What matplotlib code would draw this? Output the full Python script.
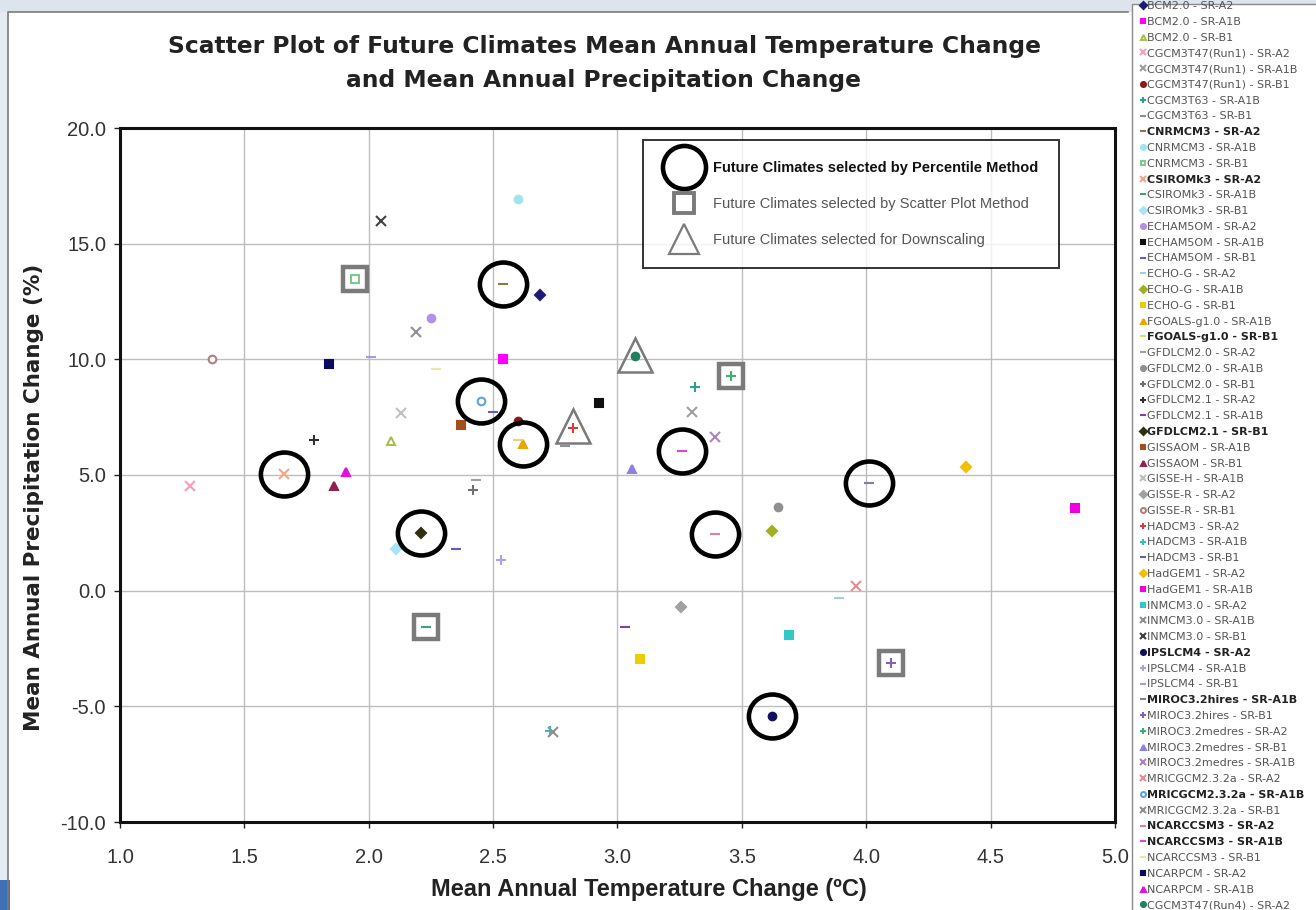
"""Scatter plot of future climate projections: temperature vs precipitation change."""

import matplotlib
matplotlib.use('Agg')
import matplotlib.pyplot as plt
from matplotlib.lines import Line2D
from matplotlib.patches import Rectangle
from matplotlib.path import Path
from matplotlib.transforms import Affine2D

plt.rcParams['font.family'] = ['Liberation Sans', 'DejaVu Sans']

# --- data -----------------------------------------------------------------
models = [
    'BCM2.0 - SR-A2', 'BCM2.0 - SR-A1B', 'BCM2.0 - SR-B1',
    'CGCM3T47(Run1) - SR-A2', 'CGCM3T47(Run1) - SR-A1B', 'CGCM3T47(Run1) - SR-B1',
    'CGCM3T63 - SR-A1B', 'CGCM3T63 - SR-B1',
    'CNRMCM3 - SR-A2', 'CNRMCM3 - SR-A1B', 'CNRMCM3 - SR-B1',
    'CSIROMk3 - SR-A2', 'CSIROMk3 - SR-A1B', 'CSIROMk3 - SR-B1',
    'ECHAM5OM - SR-A2', 'ECHAM5OM - SR-A1B', 'ECHAM5OM - SR-B1',
    'ECHO-G - SR-A2', 'ECHO-G - SR-A1B', 'ECHO-G - SR-B1',
    'FGOALS-g1.0 - SR-A1B', 'FGOALS-g1.0 - SR-B1',
    'GFDLCM2.0 - SR-A2', 'GFDLCM2.0 - SR-A1B', 'GFDLCM2.0 - SR-B1',
    'GFDLCM2.1 - SR-A2', 'GFDLCM2.1 - SR-A1B', 'GFDLCM2.1 - SR-B1',
    'GISSAOM - SR-A1B', 'GISSAOM - SR-B1',
    'GISSE-H - SR-A1B', 'GISSE-R - SR-A2', 'GISSE-R - SR-B1',
    'HADCM3 - SR-A2', 'HADCM3 - SR-A1B', 'HADCM3 - SR-B1',
    'HadGEM1 - SR-A2', 'HadGEM1 - SR-A1B',
    'INMCM3.0 - SR-A2', 'INMCM3.0 - SR-A1B', 'INMCM3.0 - SR-B1',
    'IPSLCM4 - SR-A2', 'IPSLCM4 - SR-A1B', 'IPSLCM4 - SR-B1',
    'MIROC3.2hires - SR-A1B', 'MIROC3.2hires - SR-B1',
    'MIROC3.2medres - SR-A2', 'MIROC3.2medres - SR-B1', 'MIROC3.2medres - SR-A1B',
    'MRICGCM2.3.2a - SR-A2', 'MRICGCM2.3.2a - SR-A1B', 'MRICGCM2.3.2a - SR-B1',
    'NCARCCSM3 - SR-A2', 'NCARCCSM3 - SR-A1B', 'NCARCCSM3 - SR-B1',
    'NCARPCM - SR-A2', 'NCARPCM - SR-A1B',
    'CGCM3T47(Run4) - SR-A2',
]

temp_change = [
    2.69, 2.54, 2.09,
    1.28, 3.30, 2.60,
    3.31, 2.79,
    2.54, 2.60, 1.945,
    1.66, 2.23, 2.11,
    2.25, 2.925, 2.50,
    3.89, 3.62, 3.09,
    2.62, 2.60,
    2.43, 3.645, 2.42,
    1.78, 3.03, 2.21,
    2.37, 1.86,
    2.13, 3.255, 1.37,
    2.82, 2.73, 2.35,
    4.40, 4.84,
    3.69, 2.19, 2.05,
    3.62, 2.53, 2.01,
    4.01, 4.10,
    3.456, 3.06, 3.39,
    3.96, 2.45, 2.74,
    3.39, 3.26, 2.27,
    1.84, 1.91,
    3.07,
]

precip_change = [
    12.78, 10.0, 6.47,
    4.52, 7.72, 7.33,
    8.8, 6.25,
    13.26, 16.93, 13.47,
    5.04, -1.57, 1.8,
    11.79, 8.11, 7.72,
    -0.32, 2.58, -2.96,
    6.34, 6.5,
    4.78, 3.61, 4.35,
    6.51, -1.57, 2.49,
    7.16, 4.52,
    7.68, -0.7, 10.0,
    7.03, -6.07, 1.8,
    5.34, 3.57,
    -1.92, 11.18, 15.98,
    -5.42, 1.32, 10.1,
    4.65, -3.13,
    9.28, 5.26, 6.64,
    0.2, 8.2, -6.1,
    2.45, 6.04, 9.6,
    9.8, 5.13,
    10.14,
]

bold_models = [
    'CNRMCM3 - SR-A2', 'CSIROMk3 - SR-A2', 'FGOALS-g1.0 - SR-B1',
    'GFDLCM2.1 - SR-B1', 'IPSLCM4 - SR-A2', 'MIROC3.2hires - SR-A1B',
    'MRICGCM2.3.2a - SR-A1B', 'NCARCCSM3 - SR-A2', 'NCARCCSM3 - SR-A1B',
]

# selected future climates
percentile_temp = [1.66, 2.21, 2.45, 2.62, 2.54, 3.26, 3.39, 3.62, 4.01]
percentile_precip = [5.04, 2.49, 8.2, 6.34, 13.26, 6.04, 2.45, -5.42, 4.65]
scatter_temp = [1.945, 2.23, 3.456, 4.10]
scatter_precip = [13.47, -1.57, 9.28, -3.13]
downscale_temp = [3.07, 2.82]
downscale_precip = [10.2, 7.1]

# --- styles ---------------------------------------------------------------
marker_styles = [
    'D', 's', '^',
    'x', 'x', 'o',
    '+', '_',
    '_', 'o', 's',
    'x', '_', 'D',
    'o', 's', '_',
    '_', 'D', 's',
    '^', '_',
    '_', 'o', '+',
    '+', '_', 'D',
    's', '^',
    'x', 'D', 'o',
    '+', '+', '_',
    'D', 's',
    's', 'x', 'x',
    'o', '+', '_',
    '_', '+',
    '+', '^', 'x',
    'x', 'o', 'x',
    '_', '_', '_',
    's', '^',
    'o',
]

marker_colors = [
    '#1c1c78', '#ff00ff', '#a8c050',
    '#f4a0b8', '#a0a0a0', '#8b1a1a',
    '#2e9e8e', '#909090',
    '#8a7a40', '#a0e4f0', '#80c890',
    '#f0a888', '#40a080', '#a8e4f8',
    '#b090e8', '#101010', '#6060c0',
    '#a0d0e0', '#a0b020', '#e8d000',
    '#e8a800', '#f0d070',
    '#a0a0a0', '#909090', '#707070',
    '#303030', '#8040a0', '#303010',
    '#a0501a', '#902050',
    '#c0c0c0', '#a0a0a0', '#b08080',
    '#d04040', '#30c0c0', '#6060b0',
    '#f0c000', '#f000e0',
    '#30c8c8', '#909090', '#404040',
    '#101060', '#b0a0e0', '#a0a0e0',
    '#8080a0', '#8060c0',
    '#40b070', '#9080e0', '#b080c0',
    '#e09090', '#60a0e0', '#909090',
    '#e080a0', '#e040e0', '#f0e8a0',
    '#0a0a60', '#e010e0',
    '#208060',
]

hollow = ['CNRMCM3 - SR-B1', 'GISSE-R - SR-B1', 'MRICGCM2.3.2a - SR-A1B', 'BCM2.0 - SR-B1']


def main() -> None:
    fig = plt.figure(figsize=(13.16, 9.1), dpi=100)
    W, H = 1316.0, 910.0

    # screenshot-like frame around the chart
    fig.patches.append(Rectangle((0, 1 - 12 / H), 1, 12 / H, transform=fig.transFigure,
                                 facecolor='#dde4ec', edgecolor='none', zorder=0))
    fig.patches.append(Rectangle((0, 0), 8 / W, 1 - 12 / H, transform=fig.transFigure,
                                 facecolor='#e6ebf1', edgecolor='none', zorder=0))
    fig.patches.append(Rectangle((0, 0), 10 / W, 30 / H, transform=fig.transFigure,
                                 facecolor='#3f6fb5', edgecolor='none', zorder=0))
    fig.lines.append(Line2D([8 / W, 8 / W, 1128 / W], [0, 1 - 12 / H, 1 - 12 / H],
                            transform=fig.transFigure, color='#7a7a7a', lw=1.2))
    fig.patches.append(Rectangle((1132 / W, -0.01), 0.2, 1 - 4 / H + 0.01,
                                 transform=fig.transFigure, facecolor='white',
                                 edgecolor='#8a8a8a', lw=1.0, zorder=1))

    ax = fig.add_axes([120 / W, 1 - 822 / H, 995 / W, 694 / H])

    handles = []
    for i, name in enumerate(models):
        m = marker_styles[i]
        c = marker_colors[i]
        mfc = 'white' if name in hollow else c
        ms = 6.5 if m in ('x', '+', '_') else 5.5
        h, = ax.plot(temp_change[i], precip_change[i], linestyle='none', marker=m,
                     color=c, mfc=mfc, mec=c, ms=ms, mew=1.5, zorder=3, label=name)
        handles.append(h)

    # slightly flattened ring, as in the original spreadsheet chart
    ring = Path.unit_circle().transformed(Affine2D().scale(1.0, 0.93))
    ax.plot(percentile_temp, percentile_precip, linestyle='none', marker=ring, ms=34,
            mfc='none', mec='black', mew=3.3, zorder=4)
    ax.plot(scatter_temp, scatter_precip, linestyle='none', marker='s', ms=17.5,
            mfc='none', mec='#7a7a7a', mew=3.2, zorder=4)
    ax.plot(downscale_temp, downscale_precip, linestyle='none', marker='^', ms=25,
            mfc='none', mec='#7a7a7a', mew=1.8, zorder=4)

    ax.set_xlim(1.0, 5.0)
    ax.set_ylim(-10.0, 20.0)
    ax.set_xticks([1.0, 1.5, 2.0, 2.5, 3.0, 3.5, 4.0, 4.5, 5.0])
    ax.set_yticks([-10, -5, 0, 5, 10, 15, 20])
    ax.set_xticklabels([f'{v:.1f}' for v in ax.get_xticks()])
    ax.set_yticklabels([f'{v:.1f}' for v in ax.get_yticks()])
    ax.tick_params(labelsize=14.5, colors='#222222', labelcolor='#333333',
                   length=4, width=1)
    ax.tick_params(axis='x', pad=15)
    ax.tick_params(axis='y', pad=6)
    ax.grid(True, color='#bdbdbd', lw=1.0)
    ax.set_axisbelow(True)
    for sp in ax.spines.values():
        sp.set_linewidth(2.2)
        sp.set_color('#111111')

    ax.set_xlabel('Mean Annual Temperature Change (ºC)', fontsize=17, fontweight='bold',
                  color='#222222')
    ax.set_ylabel('Mean Annual Precipitation Change (%)', fontsize=15.5, fontweight='bold',
                  color='#222222', family='DejaVu Sans')
    ax.xaxis.set_label_coords(0.532, -0.081)
    ax.yaxis.set_label_coords(-0.076, 0.468)

    title_kw = dict(ha='center', va='center', fontsize=16.8, fontweight='bold',
                    color='#222222', family='DejaVu Sans')
    fig.text(604 / W, 1 - 47 / H,
             'Scatter Plot of Future Climates Mean Annual Temperature Change', **title_kw)
    fig.text(604 / W, 1 - 80 / H, 'and Mean Annual Precipitation Change', **title_kw)

    # selection legend inside the axes
    sel_handles = [
        Line2D([], [], linestyle='none', marker='o', ms=31, mfc='none', mec='black', mew=3.3),
        Line2D([], [], linestyle='none', marker='s', ms=15, mfc='none', mec='#7a7a7a', mew=2.8),
        Line2D([], [], linestyle='none', marker='^', ms=21, mfc='none', mec='#7a7a7a', mew=1.6),
    ]
    sel_labels = [
        'Future Climates selected by Percentile Method',
        'Future Climates selected by Scatter Plot Method',
        'Future Climates selected for Downscaling',
    ]
    leg = ax.legend(sel_handles, sel_labels, loc='upper left', bbox_to_anchor=(0.526, 0.983),
                    fontsize=10.5, frameon=True, fancybox=False, edgecolor='black',
                    borderpad=1.45, labelspacing=1.5, handletextpad=0.6, borderaxespad=0,
                    handlelength=2.7)
    leg.get_frame().set_linewidth(1.4)
    leg.set_zorder(5)
    for j, t in enumerate(leg.get_texts()):
        t.set_color('#111111' if j == 0 else '#555555')
        if j == 0:
            t.set_fontweight('bold')

    # model legend on the right
    mleg = fig.legend(handles, models, loc='upper left',
                      bbox_to_anchor=(1140 / W, 1 - 1 / H), frameon=False,
                      handlelength=0.5, handletextpad=0.1, labelspacing=0.52,
                      markerscale=0.65, borderaxespad=0, borderpad=0,
                      prop=dict(family='DejaVu Sans', size=8.0))
    mleg.set_zorder(6)
    for name, t in zip(models, mleg.get_texts()):
        t.set_color('#555555')
        if name in bold_models:
            t.set_fontweight('bold')
            t.set_color('#222222')

    fig.savefig('out.png', dpi=100, facecolor='white')
    plt.close(fig)


if __name__ == '__main__':
    main()
